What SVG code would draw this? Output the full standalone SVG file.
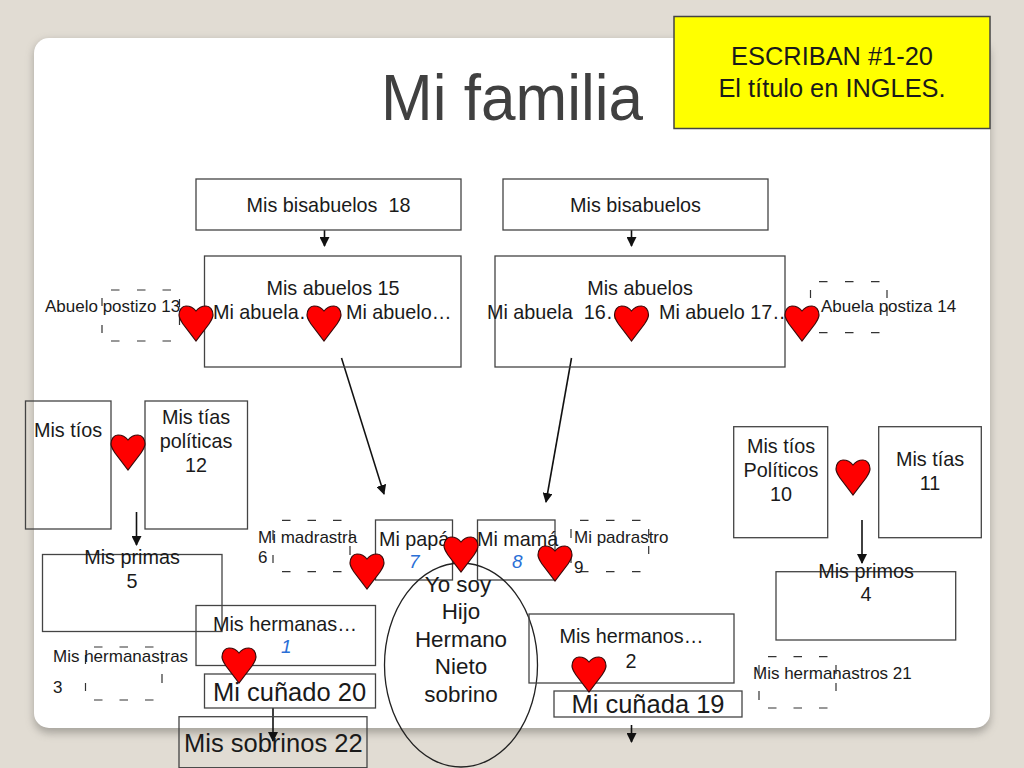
<svg xmlns="http://www.w3.org/2000/svg" xmlns:xlink="http://www.w3.org/1999/xlink" width="1024" height="768" viewBox="0 0 1024 768">
<style>
text{font-family:"Liberation Sans",Arial,sans-serif;fill:#1a1a1a;font-size:19.8px}
.c{text-anchor:middle}
.s{font-size:17px}
.l{font-size:25.5px}
.m{font-size:22.4px}
.y{font-size:25.4px}
.b{fill:none;stroke:#444;stroke-width:1.300}
.d{fill:none;stroke:#333;stroke-width:1.200}
.n{font-style:italic;fill:#2a6fd6;font-size:19px}
.a{fill:none;stroke:#111;stroke-width:1.600;marker-end:url(#h)}
.t{fill:#f00;stroke:#3a0a0a;stroke-width:1.200}
</style>
<defs>
<marker id="h" viewBox="0 0 10 10" refX="9" refY="5" markerWidth="10" markerHeight="10" markerUnits="userSpaceOnUse" orient="auto"><path d="M0 0L10 5L0 10Z" fill="#111"/></marker>
<path id="heart" d="M0 5C-3 1-7 0-10 0C-14 0-17 4-17 9C-17 12-15 15-13 18L0 35L13 18C15 15 17 12 17 9C17 4 14 0 10 0C7 0 3 1 0 5Z"/>
<filter id="sh" x="-5%" y="-5%" width="110%" height="110%"><feGaussianBlur stdDeviation="4"/></filter>
</defs>
<rect width="1024" height="768" fill="#e1dcd3"/>
<rect x="34" y="41" width="956" height="692" rx="15" fill="#8d8a84" opacity=".7" filter="url(#sh)"/>
<rect x="34" y="38" width="956" height="690" rx="15" fill="#fff"/>
<text id="title" x="381" y="120" textLength="262" lengthAdjust="spacingAndGlyphs" style="font-size:65px;fill:#404040">Mi familia</text>
<g id="nota"><rect x="674" y="16.500" width="316" height="112" fill="#ff0" stroke="#444" stroke-width="1.500"/><text x="832" y="65" class="c y">ESCRIBAN #1-20</text><text x="832" y="97" class="c y">El título en INGLES.</text></g>
<g id="conectores">
<path class="a" d="M324.500 230V246"/>
<path class="a" d="M631.500 230V246"/>
<path class="a" d="M341.500 358L384 494"/>
<path class="a" d="M571.500 358L546 502"/>
<path class="a" d="M136.500 512V545"/>
<path class="a" d="M862 520V563"/>
<path class="a" d="M273 708V741"/>
<path class="a" d="M631.500 725V742"/>
</g>
<g id="bisabuelos1"><rect class="b" x="196" y="179" width="265" height="51"/><text x="328.500" y="212" class="c" xml:space="preserve">Mis bisabuelos  18</text></g>
<g id="bisabuelos2"><rect class="b" x="503" y="179" width="265" height="51"/><text x="635.500" y="212" class="c">Mis bisabuelos</text></g>
<g id="abuelos1"><rect class="b" x="204.500" y="256" width="256.500" height="111"/><text x="333" y="295" class="c">Mis abuelos 15</text><text x="213" y="319">Mi abuela…</text><text x="346" y="319">Mi abuelo…</text></g>
<g id="abuelos2"><rect class="b" x="495" y="256" width="290" height="111"/><text x="640" y="295" class="c">Mis abuelos</text><text x="487" y="319" xml:space="preserve">Mi abuela  16…</text><text x="659" y="319">Mi abuelo 17…</text></g>
<g id="abuelo-postizo"><path class="d" d="M111 290h8.500M137 290h8.500M162.500 290h8.500M111 341h8.500M137 341h8.500M162.500 341h8.500M102 298v8M102 325v8M179.500 299v8M179.500 317v8"/><text x="45" y="312" class="s">Abuelo postizo 13</text></g>
<g id="abuela-postiza"><path class="d" d="M819 281.700h8.500M845 281.700h8.500M871 281.700h8.500M819 332.700h8.500M845 332.700h8.500M871 332.700h8.500M810.500 290v8M810.500 316v8M887 290v8M887 307v9"/><text x="821" y="312" class="s">Abuela postiza 14</text></g>
<g id="tios"><rect class="b" x="25.500" y="401" width="85.500" height="128"/><text x="68" y="436.500" class="c">Mis tíos</text></g>
<g id="tias-politicas"><rect class="b" x="145" y="401" width="102.500" height="128"/><text x="196" y="424" class="c">Mis tías</text><text x="196" y="448" class="c">políticas</text><text x="196" y="472" class="c">12</text></g>
<g id="tios-politicos"><rect class="b" x="733.700" y="426.700" width="94" height="111"/><text x="781" y="453" class="c">Mis tíos</text><text x="781" y="477" class="c">Políticos</text><text x="781" y="501" class="c">10</text></g>
<g id="tias"><rect class="b" x="878.700" y="426.700" width="102.600" height="111"/><text x="930" y="465.500" class="c">Mis tías</text><text x="930" y="489.500" class="c">11</text></g>
<g id="madrastra"><path class="d" d="M282 520.300h8.500M307.500 520.300h8.500M333 520.300h8.500M282 571.700h8.500M307.500 571.700h8.500M333 571.700h8.500M273 530v10M273 555v8M350 530v10M350 546v9"/><text x="258" y="542.500" class="s">Mi madrastra</text><text x="258" y="563" class="s">6</text></g>
<g id="papa"><rect class="b" x="375.500" y="520" width="77" height="60"/><text x="379" y="545.500">Mi papá</text><text x="409" y="568" class="n">7</text></g>
<g id="mama"><rect class="b" x="477.500" y="520" width="77.500" height="60"/><text x="477" y="545.500">Mi mamá</text><text x="512" y="568" class="n">8</text></g>
<g id="padrastro"><path class="d" d="M580 520.300h8.500M606 520.300h8.500M632 520.300h8.500M580 571.700h8.500M606 571.700h8.500M632 571.700h8.500M571 529v9M571 555v8M648.700 529v9M648.700 546v8"/><text x="574" y="543" class="s">Mi padrastro</text><text x="574" y="573" class="s">9</text></g>
<g id="primas"><rect class="b" x="42.500" y="554.500" width="179.500" height="77"/><text x="132" y="564" class="c">Mis primas</text><text x="132" y="588" class="c">5</text></g>
<g id="hermanas"><rect class="b" x="196" y="605.500" width="179.500" height="60"/><text x="213" y="631">Mis hermanas…</text><text x="281" y="653" class="n">1</text></g>
<g id="hermanastras"><path class="d" d="M94 647h8.500M119.500 647h8.500M145 647h8.500M94 700h8.500M119.500 700h8.500M145 700h8.500M85.500 655v9M85.500 683v8M162 655v9M162 674v9"/><text x="53" y="662" class="s">Mis hermanastras</text><text x="53" y="692.500" class="s">3</text></g>
<g id="cunado"><rect class="b" x="204.500" y="674" width="171" height="34"/><text x="213" y="700.500" class="l">Mi cuñado 20</text></g>
<g id="sobrinos"><rect class="b" x="179" y="716.700" width="188" height="51"/><text x="184" y="751.500" class="l">Mis sobrinos 22</text></g>
<g id="yo"><ellipse cx="461" cy="665" rx="76.500" ry="102" fill="none" stroke="#222" stroke-width="1.300"/><text x="458" y="592" class="c m">Yo soy</text><text x="461" y="619" class="c m">Hijo</text><text x="461" y="646.500" class="c m">Hermano</text><text x="461" y="674" class="c m">Nieto</text><text x="461" y="701.500" class="c m">sobrino</text></g>
<g id="hermanos"><rect class="b" x="529" y="614" width="205" height="69"/><text x="631.500" y="643" class="c">Mis hermanos…</text><text x="631" y="667.500" class="c">2</text></g>
<g id="cunada"><rect class="b" x="554" y="691" width="188" height="26"/><text x="648" y="713" class="c l">Mi cuñada 19</text></g>
<g id="primos"><rect class="b" x="776" y="571.700" width="179.700" height="68.300"/><text x="866" y="577.500" class="c">Mis primos</text><text x="866" y="601" class="c">4</text></g>
<g id="hermanastros"><path class="d" d="M768 656.700h8.500M793.500 656.700h8.500M819 656.700h8.500M768 708h8.500M793.500 708h8.500M819 708h8.500M759 665v9M759 691v9M836 665v9M836 683v8"/><text x="753" y="679" class="s">Mis hermanastros 21</text></g>
<g id="corazones">
<use class="t" xlink:href="#heart" x="196" y="306"/>
<use class="t" xlink:href="#heart" x="324" y="306"/>
<use class="t" xlink:href="#heart" x="631.500" y="306"/>
<use class="t" xlink:href="#heart" x="802" y="306"/>
<use class="t" xlink:href="#heart" x="128" y="435"/>
<use class="t" xlink:href="#heart" x="853" y="460"/>
<use class="t" xlink:href="#heart" x="367" y="554"/>
<use class="t" xlink:href="#heart" x="461" y="537"/>
<use class="t" xlink:href="#heart" x="555" y="546"/>
<use class="t" xlink:href="#heart" x="239" y="648"/>
<use class="t" xlink:href="#heart" x="589" y="657"/>
</g>
</svg>
